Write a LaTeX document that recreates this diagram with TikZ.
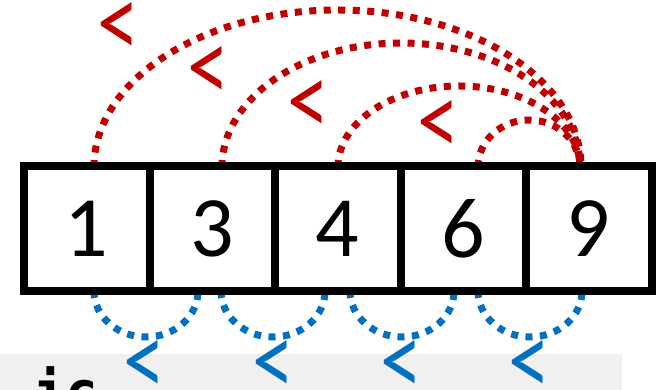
\documentclass[tikz,border=0pt]{standalone}
\usepackage{fontspec}
\usepackage{graphicx}
\setmainfont{Carlito}
\newfontfamily\codefont{DejaVu Sans Mono}
\definecolor{arcred}{HTML}{C00000}
\definecolor{arcblue}{HTML}{0070C0}
\definecolor{codegray}{HTML}{F0F0F0}
\newcommand{\tallless}{\scalebox{1}[1.25]{<}}
\begin{document}
\begin{tikzpicture}[x=1pt,y=1pt,
  cell/.style={draw, line width=8pt, minimum width=125.5pt, minimum height=125pt, inner sep=0pt, font=\fontsize{86}{86}\selectfont},
  redarc/.style={draw=arcred, line width=7pt, dash pattern=on 7pt off 7.5pt},
  bluearc/.style={draw=arcblue, line width=7pt, dash pattern=on 7pt off 7.5pt},
  redlt/.style={text=arcred, inner sep=0pt, font=\fontsize{84}{84}\selectfont},
  bluelt/.style={text=arcblue, inner sep=0pt, font=\fontsize{84}{84}\selectfont}]
\useasboundingbox (0,0) rectangle (671,390);
\fill[white] (0,0) rectangle (671,390);
% code strip
\fill[codegray] (0,0) rectangle (622,36);
\node[anchor=base west, inner sep=0pt, font=\codefont\bfseries\fontsize{54}{54}\selectfont] (code) at (33,-21) {ic};
% red arcs (top)
\coordinate (r1) at (94,223);
\coordinate (r2) at (222,223);
\coordinate (r3) at (338,223);
\coordinate (r4) at (478,223);
\draw[redarc] (r1) arc[start angle=180, end angle=0, x radius=243.5, y radius=157];
\draw[redarc] (r2) arc[start angle=180, end angle=0, x radius=179, y radius=124];
\draw[redarc] (r3) arc[start angle=180, end angle=0, x radius=121, y radius=81];
\draw[redarc] (r4) arc[start angle=180, end angle=0, x radius=51, y radius=47];
% blue arcs (bottom)
\coordinate (b1) at (94,99);
\coordinate (b2) at (221,99);
\coordinate (b3) at (350,99);
\coordinate (b4) at (478,99);
\draw[bluearc] (b1) arc[start angle=180, end angle=360, x radius=52, y radius=46];
\draw[bluearc] (b2) arc[start angle=180, end angle=360, x radius=52, y radius=46];
\draw[bluearc] (b3) arc[start angle=180, end angle=360, x radius=52, y radius=46];
\draw[bluearc] (b4) arc[start angle=180, end angle=360, x radius=52, y radius=46];
% cells
\node[cell] (c1) at (86.75,161.5) {1};
\node[cell] (c2) at (212.25,161.5) {3};
\node[cell] (c3) at (337.75,161.5) {4};
\node[cell] (c4) at (463.25,161.5) {6};
\node[cell] (c5) at (588.75,161.5) {9};
% red less-than signs
\node[redlt] (lr1) at (118,360) {\tallless};
\node[redlt] (lr2) at (208,316) {\tallless};
\node[redlt] (lr3) at (308,282) {\tallless};
\node[redlt] (lr4) at (438,262) {\tallless};
% blue less-than signs
\node[bluelt] (lb1) at (144,22) {\tallless};
\node[bluelt] (lb2) at (273,22) {\tallless};
\node[bluelt] (lb3) at (401,22) {\tallless};
\node[bluelt] (lb4) at (529,22) {\tallless};
\end{tikzpicture}
\end{document}
